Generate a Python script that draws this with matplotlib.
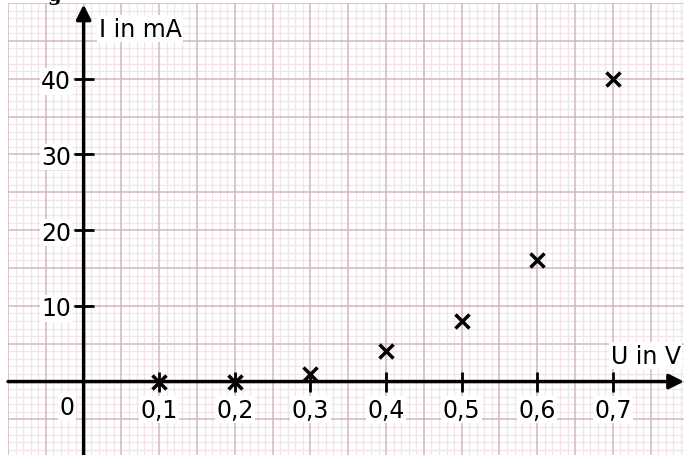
import numpy as np
import matplotlib.pyplot as plt
from matplotlib.ticker import FixedLocator, FixedFormatter

# Messwerte (U in V, I in mA)
u_values = [0.1, 0.2, 0.3, 0.4, 0.5, 0.6, 0.7]
i_values = [0, 0, 1, 4, 8, 16, 40]

x_ticks = [0.1, 0.2, 0.3, 0.4, 0.5, 0.6, 0.7]
x_tick_labels = ['0,1', '0,2', '0,3', '0,4', '0,5', '0,6', '0,7']
y_ticks = [10, 20, 30, 40]
y_tick_labels = ['10', '20', '30', '40']

xmin, xmax = -0.1, 0.794
ymin, ymax = -9.7, 50.0

fig = plt.figure(figsize=(6.84, 4.56), dpi=100)
ax = fig.add_axes([8 / 684, 0, 676 / 684, 452 / 456])
ax.set_xlim(xmin, xmax)
ax.set_ylim(ymin, ymax)

# Millimeterpapier: fein alle 0,01 V / 1 mA, grob alle 0,05 V / 5 mA
major_col, minor_col = '#d2b5c2', '#f1e5ea'
for k in range(-10, 80):
    major = k % 5 == 0
    ax.axvline(k / 100, color=major_col if major else minor_col,
               lw=1.1 if major else 0.9, zorder=0.2 if major else 0.1)
for k in range(-9, 51):
    major = k % 5 == 0
    ax.axhline(k, color=major_col if major else minor_col,
               lw=1.1 if major else 0.9, zorder=0.2 if major else 0.1)

# Achsen durch den Ursprung
for side in ['top', 'right']:
    ax.spines[side].set_visible(False)
ax.spines['left'].set_position(('data', 0))
ax.spines['bottom'].set_position(('data', 0))
ax.spines['left'].set_color('none')
ax.spines['bottom'].set_color('none')

ax.xaxis.set_major_locator(FixedLocator(x_ticks))
ax.xaxis.set_major_formatter(FixedFormatter(x_tick_labels))
ax.yaxis.set_major_locator(FixedLocator(y_ticks))
ax.yaxis.set_major_formatter(FixedFormatter(y_tick_labels))
ax.tick_params(which='major', direction='inout', length=15, width=2,
               labelsize=17, color='black', labelcolor='black')
ax.tick_params(axis='x', which='major', pad=4)
ax.tick_params(axis='y', which='major', pad=1.5)
for lab in ax.get_xticklabels() + ax.get_yticklabels():
    lab.set_bbox(dict(facecolor='white', edgecolor='none', pad=1))

arrow = dict(arrowstyle='-|>', lw=2.5, color='black', mutation_scale=22,
             shrinkA=0, shrinkB=0)
ax.annotate('', xy=(xmax, 0), xytext=(xmin, 0), arrowprops=arrow,
            annotation_clip=False, zorder=3)
ax.annotate('', xy=(0, 49.8), xytext=(0, ymin), arrowprops=arrow,
            annotation_clip=False, zorder=3)

box = dict(facecolor='white', edgecolor='none', pad=1)
ax.text(-0.022, -3.3, '0', fontsize=17, ha='center', va='center', bbox=box)
ax.text(0.02, 46.6, 'I in mA', fontsize=17, ha='left', va='center', bbox=box)
ax.text(0.697, 3.4, 'U in V', fontsize=17, ha='left', va='center', bbox=box)

ax.plot(u_values, i_values, linestyle='none', marker='x', color='black',
        markersize=10, markeredgewidth=2.5, zorder=4, clip_on=False)

# abgeschnittene Bildunterschrift oben links (nur Unterlänge sichtbar)
fig.text(54 / 684, 0.998, 'g', fontsize=14, fontweight='bold',
         family='DejaVu Serif', ha='center', va='baseline')

fig.savefig('out.png', dpi=100)
